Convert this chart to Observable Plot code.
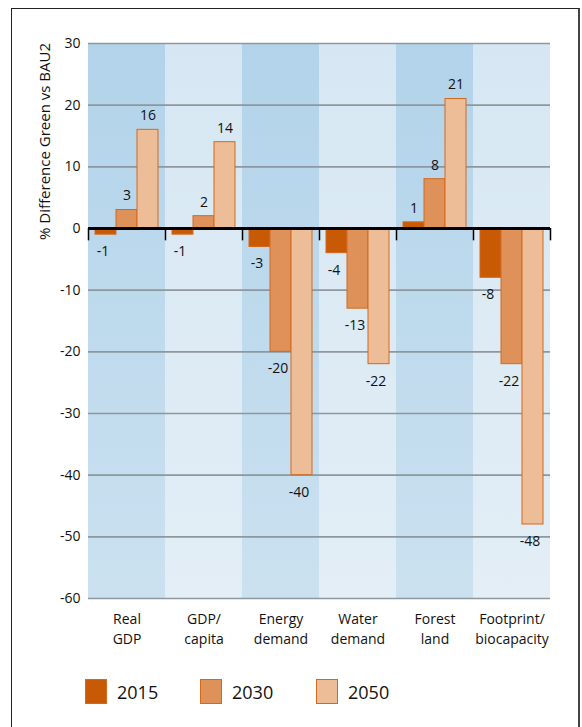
<!DOCTYPE html>
<html><head><meta charset="utf-8">
<script src="https://cdn.jsdelivr.net/npm/d3@7"></script>
<script src="https://cdn.jsdelivr.net/npm/@observablehq/plot@0.6"></script>
<style>
body{margin:0;background:#fff;font-family:"Open Sans",sans-serif;color:#111;}
#wrap{position:relative;width:582px;height:727px;overflow:hidden;}
#border{position:absolute;left:11px;top:8px;width:569px;height:760px;border:1.5px solid #222;border-right:2px solid #444;box-sizing:border-box;}
#chart{position:absolute;left:0;top:0;}
.item{position:absolute;top:679px;height:25px;display:flex;align-items:center;font-size:18px;}
.sw{width:22px;height:25px;box-sizing:border-box;border:1px solid #d4691e;margin-right:10px;}
</style>
</head><body>
<div id="wrap">
<div id="border"></div>
<div id="chart"></div>
<div id="legend"></div>
</div>
<script>
const categories = ["Real\nGDP","GDP/\ncapita","Energy\ndemand","Water\ndemand","Forest\nland","Footprint/\nbiocapacity"];
const years = ["2015","2030","2050"];
const v2015 = [-1,-1,-3,-4,1,-8];
const v2030 = [3,2,-20,-13,8,-22];
const v2050 = [16,14,-40,-22,21,-48];
const yTicks = [30,20,10,0,-10,-20,-30,-40,-50,-60];
const colors = ["#c95a05","#de925a","#ecbd96"];
const yTitle = "% Difference Green vs BAU2";

const data = categories.flatMap((c,i)=>[v2015[i],v2030[i],v2050[i]].map((v,j)=>({cat:c, year:years[j], value:v})));
const bands = categories.map((c,i)=>({cat:c, alt:i%2}));

const plot = Plot.plot({
  width: 582, height: 660,
  marginLeft: 87, marginRight: 32, marginTop: 43, marginBottom: 62,
  style: {fontFamily: "Open Sans", fontSize: "14px", color: "#111", background: "transparent"},
  fx: {domain: categories, padding: 0, label: null},
  x: {domain: years, paddingInner: 0, paddingOuter: 1/3},
  y: {domain: [-60, 30], label: null},
  color: {domain: years, range: colors},
  marks: [
    Plot.rect(bands.filter(d=>!d.alt), {fx:"cat", y1:-60, y2:30, fill:"url(#gA)"}),
    Plot.rect(bands.filter(d=>d.alt), {fx:"cat", y1:-60, y2:30, fill:"url(#gB)"}),
    Plot.ruleY(yTicks.filter(t=>t!==0), {stroke:"#8e979d", strokeWidth:1.6}),
    Plot.barY(data, {fx:"cat", x:"year", y:"value", fill:"year", stroke:"#d4691e", strokeWidth:1}),
    Plot.ruleY([0], {stroke:"#000", strokeWidth:3}),
    Plot.ruleX(categories, {fx: d=>d, x: ()=>"2015", y1: 0, y2: -2, dx: -17.5, stroke:"#000", strokeWidth:1.5}),
    Plot.ruleX([categories[5]], {fx: d=>d, x: ()=>"2050", y1: 0, y2: -2, dx: 17.5, stroke:"#000", strokeWidth:1.5}),
    Plot.text(data.filter(d=>d.value>=0), {fx:"cat", x:"year", y:"value", text: d=>String(d.value), dy:-14, fontSize:14, fill:"#111"}),
    Plot.text(data.filter(d=>d.value<0), {fx:"cat", x:"year", y:"value", text: d=>String(d.value), dy:17, dx:-3, fontSize:14, fill:"#111"}),
    Plot.axisX({ticks: [], label: null}),
    Plot.axisFx({anchor:"bottom", tickSize:0, tickPadding:11, lineHeight:1.43, fontSize:14, label:null}),
    Plot.axisY({ticks: yTicks, tickSize:0, tickPadding:8, label:null, fontSize:14, tickFormat: d=>String(d)})
  ]
});

const svg = d3.select(plot);
const defs = svg.insert("defs", ":first-child");
function grad(id, top, bottom){
  const g = defs.append("linearGradient").attr("id", id).attr("x1",0).attr("y1",0).attr("x2",0).attr("y2",1);
  g.append("stop").attr("offset","0%").attr("stop-color", top);
  g.append("stop").attr("offset","100%").attr("stop-color", bottom);
}
grad("gA", "#b2d3ea", "#cbe1f0");
grad("gB", "#d6e7f3", "#e3eef6");
svg.append("text")
  .attr("transform", "translate(44,43) rotate(-90)")
  .attr("text-anchor", "end")
  .attr("dominant-baseline", "central")
  .attr("font-size", 15)
  .attr("fill", "#111")
  .text(yTitle);
document.getElementById("chart").appendChild(plot);

const legendX = [85, 200, 316];
const legend = document.getElementById("legend");
years.forEach((y,i)=>{
  const it = document.createElement("div");
  it.className = "item";
  it.style.left = legendX[i] + "px";
  const sw = document.createElement("div");
  sw.className = "sw";
  sw.style.background = colors[i];
  const t = document.createElement("span");
  t.textContent = y;
  it.appendChild(sw); it.appendChild(t);
  legend.appendChild(it);
});
</script>
</body></html>
